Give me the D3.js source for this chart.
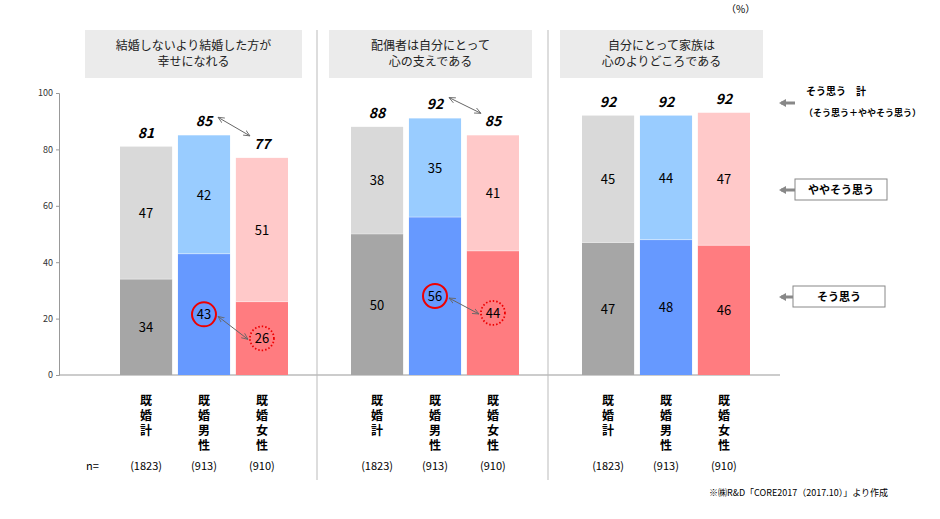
<!DOCTYPE html><html><head><meta charset="utf-8"><script src="https://cdn.jsdelivr.net/npm/d3@7"></script>
<style>body{margin:0;background:#fff}text{font-family:"Noto Sans CJK JP",sans-serif}</style></head><body><svg id="c" width="940" height="519"></svg><script>
const groups=["結婚しないより結婚した方が\n幸せになれる","配偶者は自分にとって\n心の支えである","自分にとって家族は\n心のよりどころである"];
const categories=["既婚計","既婚男性","既婚女性"];
const nLabels=["(1823)","(913)","(910)"];
const soOmou=[[34,43,26],[50,56,44],[47,48,46]];
const yaya=[[47,42,51],[38,35,41],[45,44,47]];
const totals=[[81,85,77],[88,92,85],[92,92,92]];
const yTicks=[0,20,40,60,80,100];
const darkC=["#a6a6a6","#6699ff","#ff7c80"], lightC=["#d9d9d9","#99ccff","#ffc9c9"];
const svg=d3.select("#c");
const y=d3.scaleLinear().domain([0,100]).range([375,93]);
const bx=d3.scaleBand().domain([0,1,2]).range([0,168]).paddingInner(0.1);
svg.append("g").attr("transform","translate(59,0)").call(d3.axisLeft(y).tickValues(yTicks).tickSize(3)).call(g=>{g.selectAll("text").attr("font-size",9).attr("fill","#333").attr("font-family","Arial");g.selectAll("line,path").attr("stroke","#999");});
svg.append("line").attr("x1",59).attr("x2",780).attr("y1",375).attr("y2",375).attr("stroke","#999");
[317,548].forEach(x=>svg.append("line").attr("x1",x).attr("x2",x).attr("y1",30).attr("y2",480).attr("stroke","#bbb"));
const defs=svg.append("defs");
defs.append("marker").attr("id","ar").attr("viewBox","0 0 10 10").attr("refX",9).attr("refY",5).attr("markerWidth",7).attr("markerHeight",7).attr("orient","auto-start-reverse").append("path").attr("d","M0,1L9,5L0,9").attr("fill","none").attr("stroke","#666").attr("stroke-width",1.2);
const hb=[[85,302],[329,532],[560,763]];
groups.forEach((gname,gi)=>{
  svg.append("rect").attr("x",hb[gi][0]).attr("y",30).attr("width",hb[gi][1]-hb[gi][0]).attr("height",48).attr("fill","#ebebeb");
  gname.split("\n").forEach((l,i)=>svg.append("text").attr("x",(hb[gi][0]+hb[gi][1])/2).attr("y",50+i*16).attr("text-anchor","middle").attr("font-size",12).attr("fill","#222").text(l));
  const off=[120,351,582][gi];
  categories.forEach((c,ci)=>{
    const x=off+bx(ci), w=bx.bandwidth(), cx=x+w/2;
    const b=soOmou[gi][ci], t=yaya[gi][ci];
    svg.append("rect").attr("x",x).attr("y",y(b)).attr("width",w).attr("height",y(0)-y(b)).attr("fill",darkC[ci]);
    svg.append("rect").attr("x",x).attr("y",y(b+t)).attr("width",w).attr("height",y(b)-y(b+t)).attr("fill",lightC[ci]);
    svg.append("line").attr("x1",x).attr("x2",x+w).attr("y1",y(b)).attr("y2",y(b)).attr("stroke","#fff").attr("stroke-opacity",0.4);
    svg.append("text").attr("x",cx).attr("y",y(b/2)+5).attr("text-anchor","middle").attr("font-size",13).attr("font-family","Arial").text(b);
    svg.append("text").attr("x",cx).attr("y",y(b+t/2)+5).attr("text-anchor","middle").attr("font-size",13).attr("font-family","Arial").text(t);
    svg.append("text").attr("x",cx).attr("y",y(b+t)-9).attr("text-anchor","middle").attr("font-size",14).attr("font-weight","bold").attr("font-style","italic").attr("font-family","Arial").text(totals[gi][ci]);
    [...c].forEach((ch,k)=>svg.append("text").attr("x",cx).attr("y",405+k*15).attr("text-anchor","middle").attr("font-size",12).attr("font-weight","bold").text(ch));
    svg.append("text").attr("x",cx).attr("y",470).attr("text-anchor","middle").attr("font-size",11).attr("font-family","Arial").text(nLabels[ci]);
    if(gi<2&&ci>0){
      svg.append("circle").attr("cx",cx).attr("cy",y(b/2)).attr("r",12).attr("fill","none").attr("stroke","#e00").attr("stroke-width",ci==1?2:1.8).attr("stroke-dasharray",ci==1?null:"1.5,2");
    }
  });
  if(gi<2){
    const w=bx.bandwidth();
    const c1=off+bx(1)+w/2, c2=off+bx(2)+w/2;
    svg.append("line").attr("x1",c1+14).attr("y1",y(totals[gi][1])-18).attr("x2",c2-12).attr("y2",y(totals[gi][2])-22).attr("stroke","#666").attr("marker-start","url(#ar)").attr("marker-end","url(#ar)");
    svg.append("line").attr("x1",c1+14).attr("y1",y(soOmou[gi][1]/2)+2).attr("x2",c2-14).attr("y2",y(soOmou[gi][2]/2)+1).attr("stroke","#666").attr("marker-start","url(#ar)").attr("marker-end","url(#ar)");
  }
});
svg.append("text").attr("x",86).attr("y",470).attr("font-size",11).attr("font-family","Arial").text("n=");
svg.append("text").attr("x",726).attr("y",13).attr("font-size",10).text("（%）");
function arrow(yv){svg.append("path").attr("d",`M795,${yv}h-14`).attr("stroke","#888").attr("stroke-width",3);svg.append("path").attr("d",`M786,${yv-4}L779,${yv}L786,${yv+4}Z`).attr("fill","#888");}
arrow(103);arrow(190);arrow(297);
svg.append("text").attr("x",806).attr("y",95).attr("font-size",10).attr("font-weight","bold").text("そう思う　計");
svg.append("text").attr("x",804).attr("y",116).attr("font-size",9).attr("font-weight","bold").text("（そう思う＋ややそう思う）");
svg.append("rect").attr("x",795).attr("y",179).attr("width",92).attr("height",21).attr("fill","#fff").attr("stroke","#888");
svg.append("text").attr("x",841).attr("y",194).attr("text-anchor","middle").attr("font-size",11).attr("font-weight","bold").text("ややそう思う");
svg.append("rect").attr("x",793).attr("y",286).attr("width",92).attr("height",21).attr("fill","#fff").attr("stroke","#888");
svg.append("text").attr("x",839).attr("y",301).attr("text-anchor","middle").attr("font-size",11).attr("font-weight","bold").text("そう思う");
svg.append("text").attr("x",888).attr("y",496).attr("text-anchor","end").attr("font-size",9).text("※㈱R&D「CORE2017（2017.10）」より作成");
</script></body></html>
